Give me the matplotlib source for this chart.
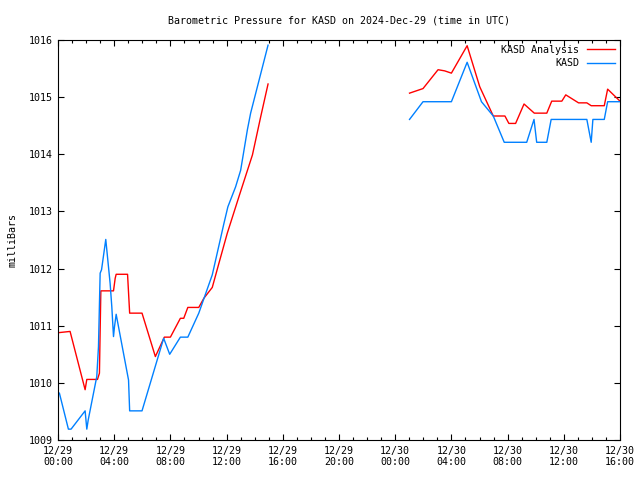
import numpy as np
import matplotlib
matplotlib.use("Agg")
import matplotlib.pyplot as plt

# hours since 12/29 00:00 UTC, nan marks the data gap
hours_obs = [0.1, 0.74, 0.93, 1.93, 2.05, 2.15, 2.76, 2.88, 3.0, 3.1, 3.4, 3.71, 3.83, 3.95,
             4.02, 4.14, 5.02, 5.1, 5.98, 7.52, 7.95, 8.71, 9.24, 10.02, 10.98, 11.81,
             12.09, 12.64, 13.0, 13.48, 13.71, 14.95, 20.0,
             25.02, 25.98, 28.0, 29.12, 30.14, 30.98, 31.76, 33.36, 33.88, 34.07, 34.79,
             35.1, 37.64, 37.95, 38.07, 38.88, 39.12, 40.0]
kasd = [1009.82, 1009.19, 1009.19, 1009.51, 1009.19, 1009.35, 1010.11, 1010.63, 1011.92,
        1011.98, 1012.51, 1011.74, 1011.33, 1010.81, 1010.98, 1011.2, 1010.05, 1009.51,
        1009.51, 1010.78, 1010.5, 1010.8, 1010.8, 1011.22, 1011.89, 1012.79, 1013.08,
        1013.43, 1013.72, 1014.43, 1014.72, 1015.91, np.nan,
        1014.61, 1014.92, 1014.92, 1015.61, 1014.92, 1014.67, 1014.21, 1014.21, 1014.61,
        1014.21, 1014.21, 1014.61, 1014.61, 1014.21, 1014.61, 1014.61, 1014.92, 1014.92]

hours_ana = [0.1, 0.86, 1.93, 2.05, 2.81, 2.95, 3.0, 3.05, 3.95, 4.07, 4.14, 4.95, 5.1,
             5.98, 6.93, 7.57, 8.0, 8.71, 8.95, 9.24, 10.02, 10.38, 10.98, 11.45, 12.05,
             12.88, 13.84, 14.43, 14.95, 20.0,
             25.02, 25.98, 27.05, 27.52, 28.0, 29.12, 30.02, 30.98, 31.81, 32.09, 32.57,
             33.17, 33.9, 34.79, 35.14, 35.86, 36.14, 37.05, 37.64, 37.95, 38.88, 39.12, 40.0]
analysis = [1010.88, 1010.9, 1009.88, 1010.06, 1010.06, 1010.17, 1010.92, 1011.61, 1011.61,
            1011.83, 1011.9, 1011.9, 1011.22, 1011.22, 1010.46, 1010.8, 1010.8, 1011.13,
            1011.13, 1011.32, 1011.32, 1011.48, 1011.67, 1012.09, 1012.62, 1013.26,
            1013.99, 1014.66, 1015.23, np.nan,
            1015.07, 1015.15, 1015.48, 1015.46, 1015.42, 1015.9, 1015.18, 1014.67, 1014.67,
            1014.54, 1014.54, 1014.88, 1014.72, 1014.72, 1014.93, 1014.93, 1015.04, 1014.9,
            1014.9, 1014.85, 1014.85, 1015.14, 1014.93]

xtick_labels = ["12/29\n00:00", "12/29\n04:00", "12/29\n08:00", "12/29\n12:00",
                "12/29\n16:00", "12/29\n20:00", "12/30\n00:00", "12/30\n04:00",
                "12/30\n08:00", "12/30\n12:00", "12/30\n16:00"]
yticks = [1009, 1010, 1011, 1012, 1013, 1014, 1015, 1016]

plt.rcParams['font.family'] = 'DejaVu Sans Mono'
plt.rcParams['font.size'] = 7.2

fig = plt.figure(figsize=(6.4, 4.8), dpi=100)
ax = fig.add_axes([58 / 640, 40 / 480, 562 / 640, 400 / 480])

ax.plot(hours_ana, analysis, color='#ff0000', lw=1, label='KASD Analysis')
ax.plot(hours_obs, kasd, color='#0080ff', lw=1, label='KASD')

ax.set_xlim(0, 40)
ax.set_ylim(1009, 1016)
ax.set_xticks(np.arange(0, 41, 4))
ax.set_xticklabels(xtick_labels)
ax.set_xticks(np.arange(0, 41, 1), minor=True)
ax.set_yticks(yticks)
ax.set_yticklabels([str(v) for v in yticks])
ax.tick_params(which='both', direction='in', top=True, right=True, width=0.8)
ax.tick_params(which='major', length=4, pad=4)
ax.tick_params(which='minor', length=2.2)
for s in ax.spines.values():
    s.set_linewidth(0.8)

ax.set_ylabel('milliBars', labelpad=8)
ax.set_title('Barometric Pressure for KASD on 2024-Dec-29 (time in UTC)',
             fontsize=7.2, pad=12)

ax.legend(loc='upper right', frameon=False, markerfirst=False, handlelength=2.8,
          borderaxespad=0.2, borderpad=0.3, labelspacing=0.35, handletextpad=0.8)

fig.savefig('out.png', dpi=100)
